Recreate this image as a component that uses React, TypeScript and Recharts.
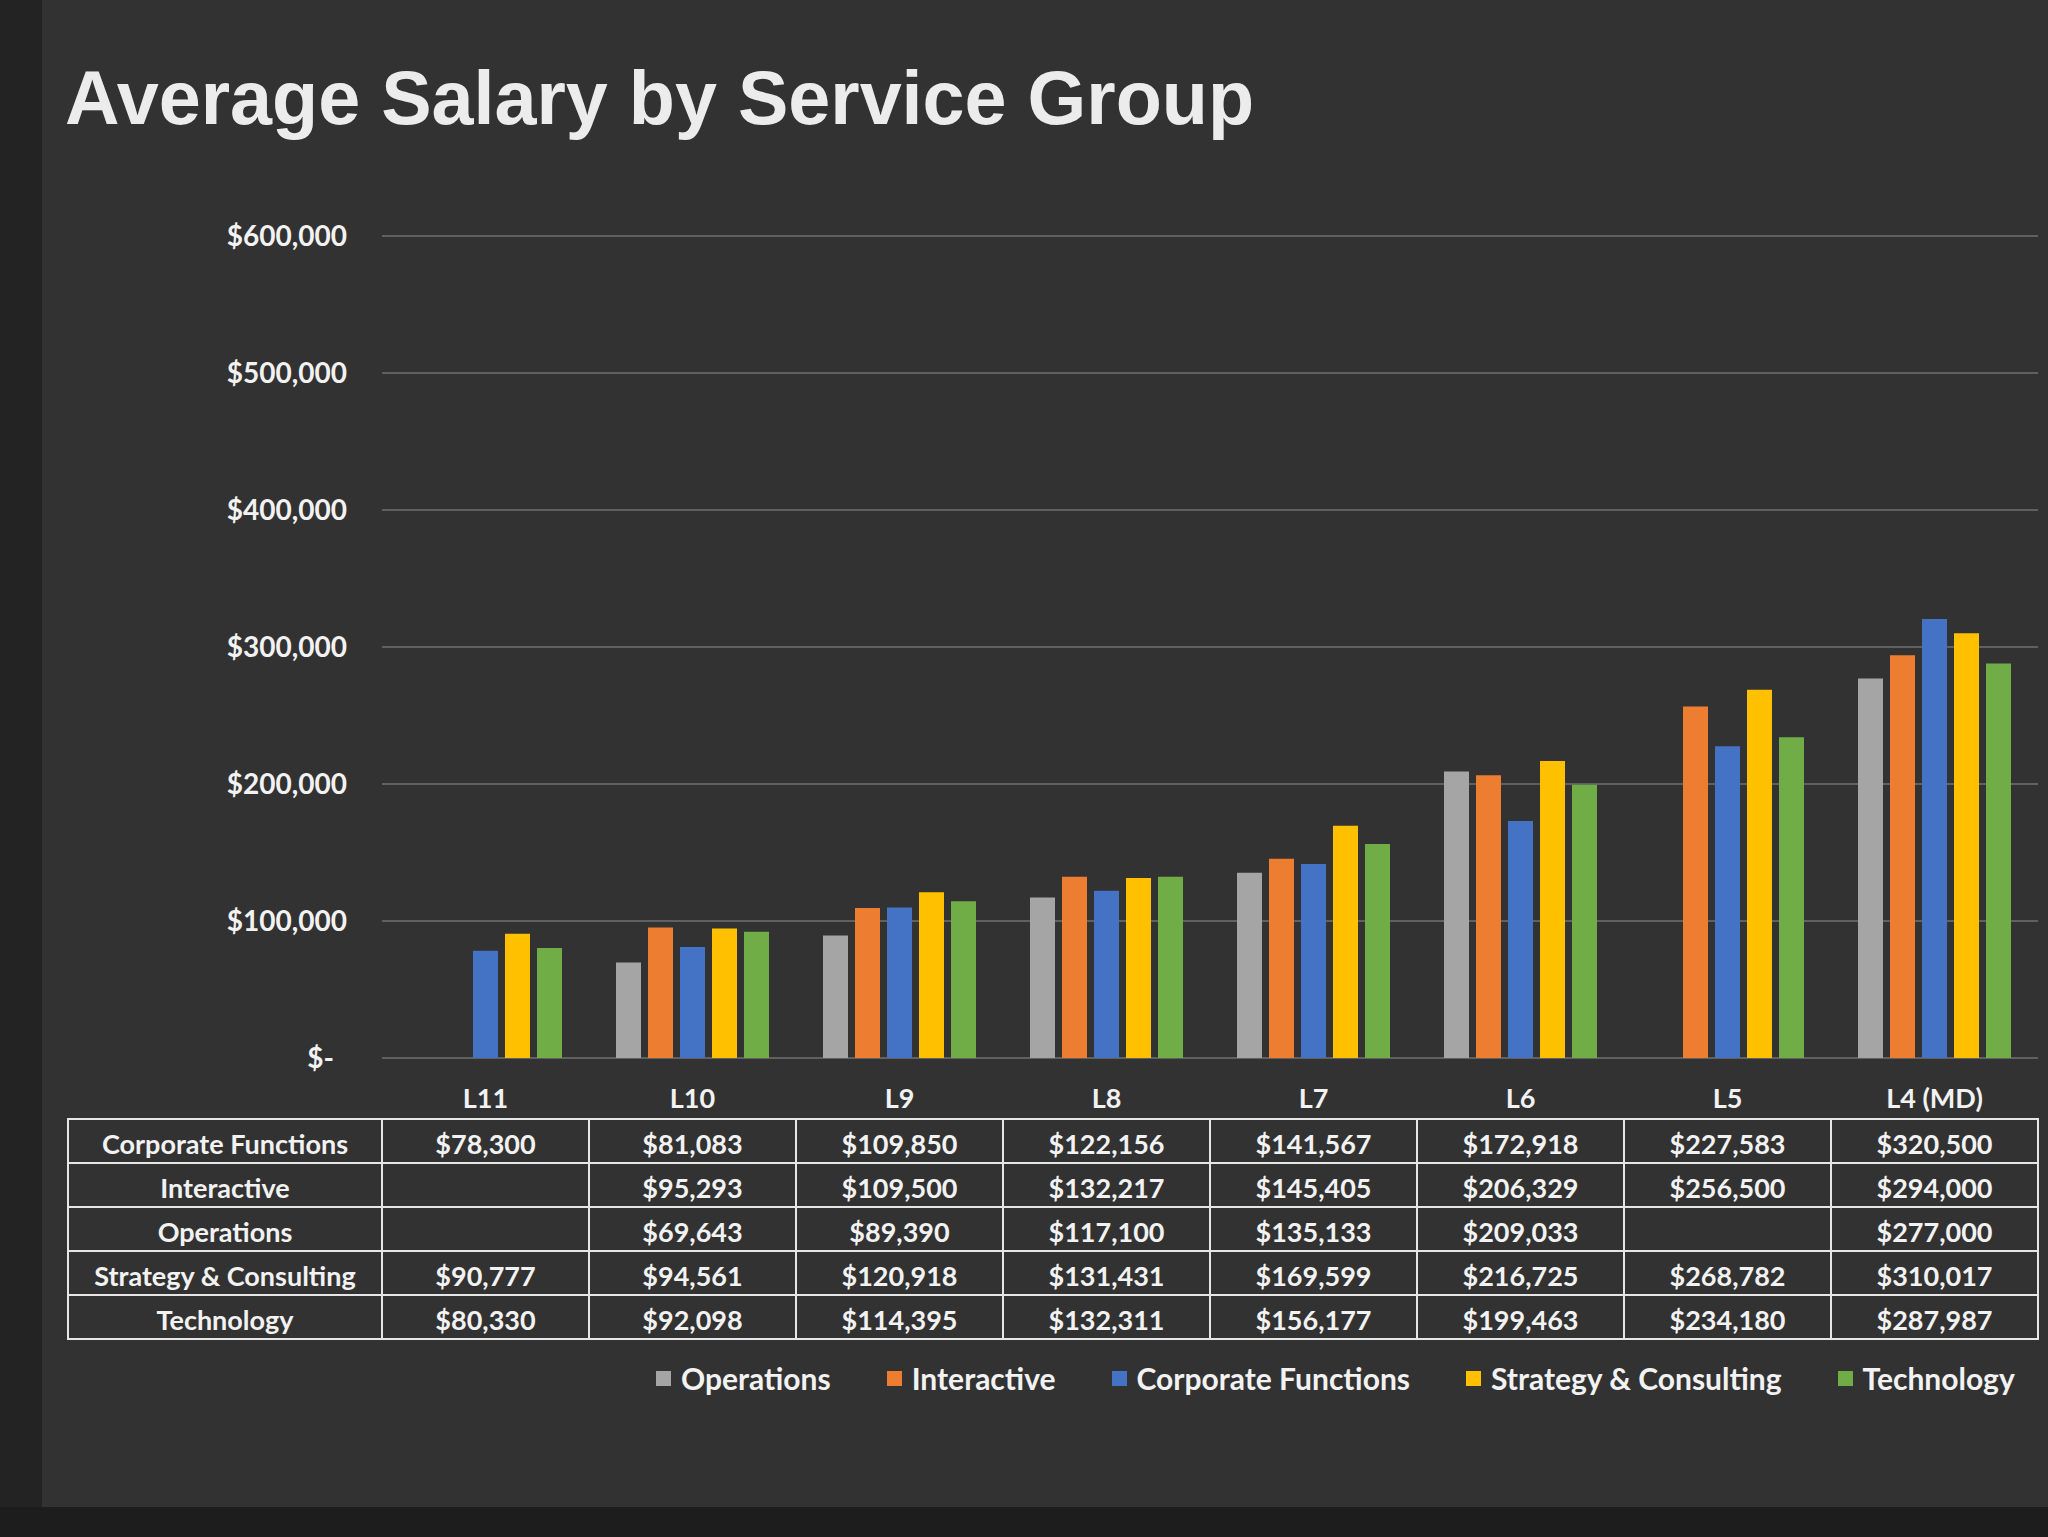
import { Bar, BarChart, CartesianGrid, Legend, XAxis, YAxis } from 'recharts';

const levels = ['L11', 'L10', 'L9', 'L8', 'L7', 'L6', 'L5', 'L4 (MD)'];

const corporateFunctions = [78300, 81083, 109850, 122156, 141567, 172918, 227583, 320500];
const interactive = [null, 95293, 109500, 132217, 145405, 206329, 256500, 294000];
const operations = [null, 69643, 89390, 117100, 135133, 209033, null, 277000];
const strategyConsulting = [90777, 94561, 120918, 131431, 169599, 216725, 268782, 310017];
const technology = [80330, 92098, 114395, 132311, 156177, 199463, 234180, 287987];

const yTicks = [0, 100000, 200000, 300000, 400000, 500000, 600000];

// bars (and legend) follow this order, the data table lists rows alphabetically
const series = [
  { key: 'operations', name: 'Operations', color: '#A5A5A5', values: operations },
  { key: 'interactive', name: 'Interactive', color: '#ED7D31', values: interactive },
  { key: 'corporate', name: 'Corporate Functions', color: '#4472C4', values: corporateFunctions },
  { key: 'strategy', name: 'Strategy & Consulting', color: '#FFC000', values: strategyConsulting },
  { key: 'technology', name: 'Technology', color: '#70AD47', values: technology },
];
const tableOrder = ['corporate', 'interactive', 'operations', 'strategy', 'technology'];

const data = levels.map((level, i) => {
  const row: Record<string, string | number | null> = { level };
  series.forEach((s) => (row[s.key] = s.values[i]));
  return row;
});

const W = 2048;
const H = 1537;
const PLOT_LEFT = 382;
const PLOT_RIGHT = 2038;
const PLOT_TOP = 236;
const PLOT_BOTTOM = 1058;
const BAND = (PLOT_RIGHT - PLOT_LEFT) / levels.length;

const TABLE_LEFT = 68;
const TABLE_TOP = 1119;
const ROW_H = 44;
const LABEL_Y = 1098;

const TEXT = '#f2f2f2';
const LINE = '#e6e6e6';
const FONT = 'Lato, "Open Sans", sans-serif';

const money = (v: number) => '$' + v.toLocaleString('en-US');

const YTick = ({ x, y, payload }: any) => (
  <text
    x={x - (payload.value === 0 ? 13 : 0)}
    y={y}
    dy="0.36em"
    textAnchor="end"
    fill={TEXT}
    fontSize={28}
    fontWeight={700}
    fontFamily={FONT}
  >
    {payload.value === 0 ? '$-' : money(payload.value)}
  </text>
);

// each x tick draws its category label plus its column of the data table
const TableTick = ({ x, payload, index }: any) => {
  const i = index ?? payload.index;
  const left = x - BAND / 2;
  const txt = { fill: TEXT, fontSize: 27, fontWeight: 700, fontFamily: FONT, textAnchor: 'middle' as const };
  return (
    <g>
      <text x={x} y={LABEL_Y} dy="0.36em" {...txt}>
        {payload.value}
      </text>
      {tableOrder.map((key, r) => {
        const s = series.find((d) => d.key === key)!;
        const v = s.values[i];
        const top = TABLE_TOP + r * ROW_H;
        const cy = top + ROW_H / 2 + 3;
        return (
          <g key={key}>
            <rect x={left} y={top} width={BAND} height={ROW_H} fill="none" stroke={LINE} strokeWidth={2} />
            {v != null && (
              <text x={x} y={cy} dy="0.36em" {...txt}>
                {money(v)}
              </text>
            )}
            {i === 0 && (
              <>
                <rect
                  x={TABLE_LEFT}
                  y={top}
                  width={left - TABLE_LEFT}
                  height={ROW_H}
                  fill="none"
                  stroke={LINE}
                  strokeWidth={2}
                />
                <text x={(TABLE_LEFT + left) / 2} y={cy} dy="0.36em" {...txt}>
                  {s.name}
                </text>
              </>
            )}
          </g>
        );
      })}
    </g>
  );
};

const seriesIndex = (name: string) => series.findIndex((s) => s.name === name);

const LegendContent = ({ payload }: any) => (
  <div style={{ display: 'flex', gap: 56, alignItems: 'center', fontFamily: FONT }}>
    {[...(payload || [])]
      .sort((a: any, b: any) => seriesIndex(a.value) - seriesIndex(b.value))
      .map((p: any) => (
        <div key={p.value} style={{ display: 'flex', alignItems: 'center' }}>
          <span style={{ width: 15, height: 15, background: p.color, marginRight: 10, display: 'inline-block' }} />
          <span style={{ color: TEXT, fontSize: 30, fontWeight: 700, lineHeight: '36px', whiteSpace: 'nowrap' }}>
            {p.value}
          </span>
        </div>
      ))}
  </div>
);

export default function App() {
  return (
    <div style={{ position: 'fixed', left: 0, top: 0, width: W, height: H, overflow: 'hidden', background: '#323232' }}>
      <div style={{ position: 'absolute', left: 0, top: 0, width: 42, height: H, background: '#232323' }} />
      <div style={{ position: 'absolute', left: 0, top: 1507, width: W, height: H - 1507, background: '#1d1d1d' }} />
      <div
        style={{
          position: 'absolute',
          left: 65,
          top: 60,
          fontFamily: '"Liberation Sans", Arial, sans-serif',
          fontWeight: 700,
          fontSize: 75.5,
          lineHeight: '76px',
          color: '#ececec',
          whiteSpace: 'nowrap',
        }}
      >
        Average Salary by Service Group
      </div>
      <div style={{ position: 'absolute', left: 0, top: 0 }}>
        <BarChart
          width={W}
          height={H}
          data={data}
          margin={{ top: PLOT_TOP, right: W - PLOT_RIGHT, bottom: H - PLOT_BOTTOM - 300, left: 0 }}
          barCategoryGap={27}
          barGap={7}
        >
          <CartesianGrid vertical={false} stroke="#707070" strokeWidth={1.5} />
          <XAxis
            dataKey="level"
            height={300}
            interval={0}
            axisLine={false}
            tickLine={false}
            tick={<TableTick />}
          />
          <YAxis
            width={PLOT_LEFT}
            domain={[0, 600000]}
            ticks={yTicks}
            axisLine={false}
            tickLine={false}
            tickSize={0}
            tickMargin={35}
            tick={<YTick />}
          />
          <Legend
            layout="horizontal"
            verticalAlign="middle"
            align="center"
            content={<LegendContent />}
            wrapperStyle={{ position: 'absolute', left: 656, top: 1360, width: 'auto', height: 'auto' }}
          />
          {series.map((s) => (
            <Bar key={s.key} dataKey={s.key} name={s.name} fill={s.color} isAnimationActive={false} />
          ))}
        </BarChart>
      </div>
    </div>
  );
}
